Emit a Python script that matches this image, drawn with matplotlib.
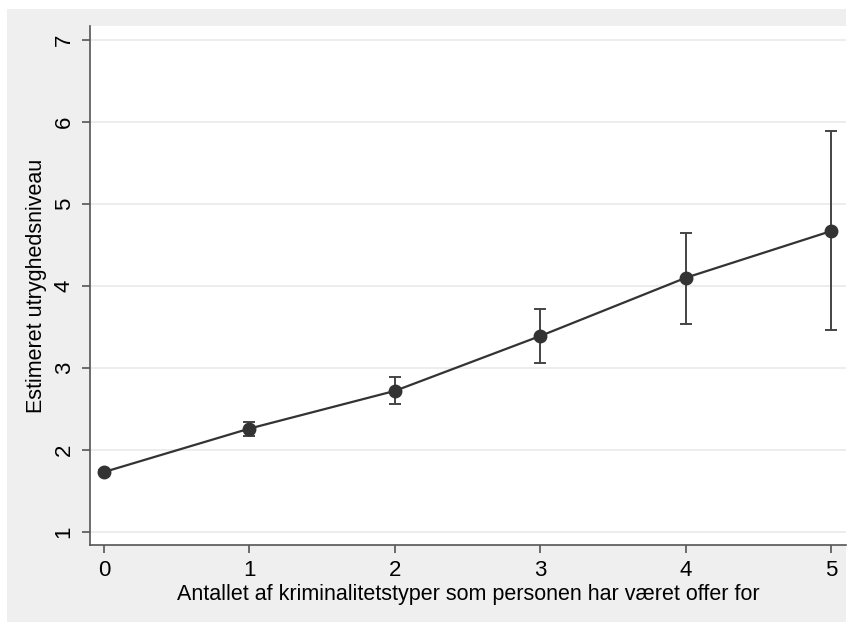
import matplotlib
matplotlib.use("Agg")
import matplotlib.pyplot as plt
from matplotlib.patches import Rectangle

x = [0, 1, 2, 3, 4, 5]
est = [1.73, 2.26, 2.72, 3.39, 4.10, 4.67]
lo = [1.70, 2.17, 2.56, 3.06, 3.54, 3.46]
hi = [1.76, 2.34, 2.89, 3.72, 4.65, 5.89]
yticks = [1, 2, 3, 4, 5, 6, 7]
xticks = [0, 1, 2, 3, 4, 5]
xlabel = "Antallet af kriminalitetstyper som personen har været offer for"
ylabel = "Estimeret utryghedsniveau"

plt.rcParams['font.family'] = ['Liberation Sans', 'DejaVu Sans']
W, H = 853, 624
fig = plt.figure(figsize=(W/100, H/100), dpi=100)
fig.patch.set_facecolor('white')
fig.patches.append(Rectangle((7/W, 1-622/H), (846-7)/W, (622-9)/H,
                             transform=fig.transFigure, facecolor='#efefef',
                             edgecolor='none', zorder=-10))
ax = fig.add_axes([90/W, 1-545/H, (846-90)/W, (545-26)/H])
ax.set_facecolor('white')
col = '#333333'
err_lo = [e - l for e, l in zip(est, lo)]
err_hi = [h - e for e, h in zip(est, hi)]
ax.errorbar(x, est, yerr=[err_lo, err_hi], fmt='none', ecolor='#444444',
            elinewidth=1.4, capsize=4.5, capthick=1.4, zorder=2)
ax.plot(x, est, color=col, lw=1.6, marker='o', ms=9, mfc=col, mec=col, zorder=3)

ax.set_xlim(-0.096, 5.1)
ax.set_ylim(0.84, 7.17)
ax.set_yticks(yticks)
ax.set_xticks(xticks)
ax.set_yticklabels([str(v) for v in yticks], rotation=90, va='center')
ax.grid(axis='y', color='#eaeaea', lw=1.2)
ax.set_axisbelow(True)
for s in ['top', 'right']:
    ax.spines[s].set_visible(False)
for s in ['left', 'bottom']:
    ax.spines[s].set_color('#555555')
    ax.spines[s].set_linewidth(1.2)
ax.tick_params(axis='both', length=6, width=1.2, color='#555555',
               labelsize=16, labelcolor='black', pad=5)
ax.set_xlabel(xlabel, fontsize=15.5, labelpad=2)
ax.set_ylabel(ylabel, fontsize=15.5, labelpad=5)
fig.savefig('out.png', dpi=100, facecolor=fig.get_facecolor())
